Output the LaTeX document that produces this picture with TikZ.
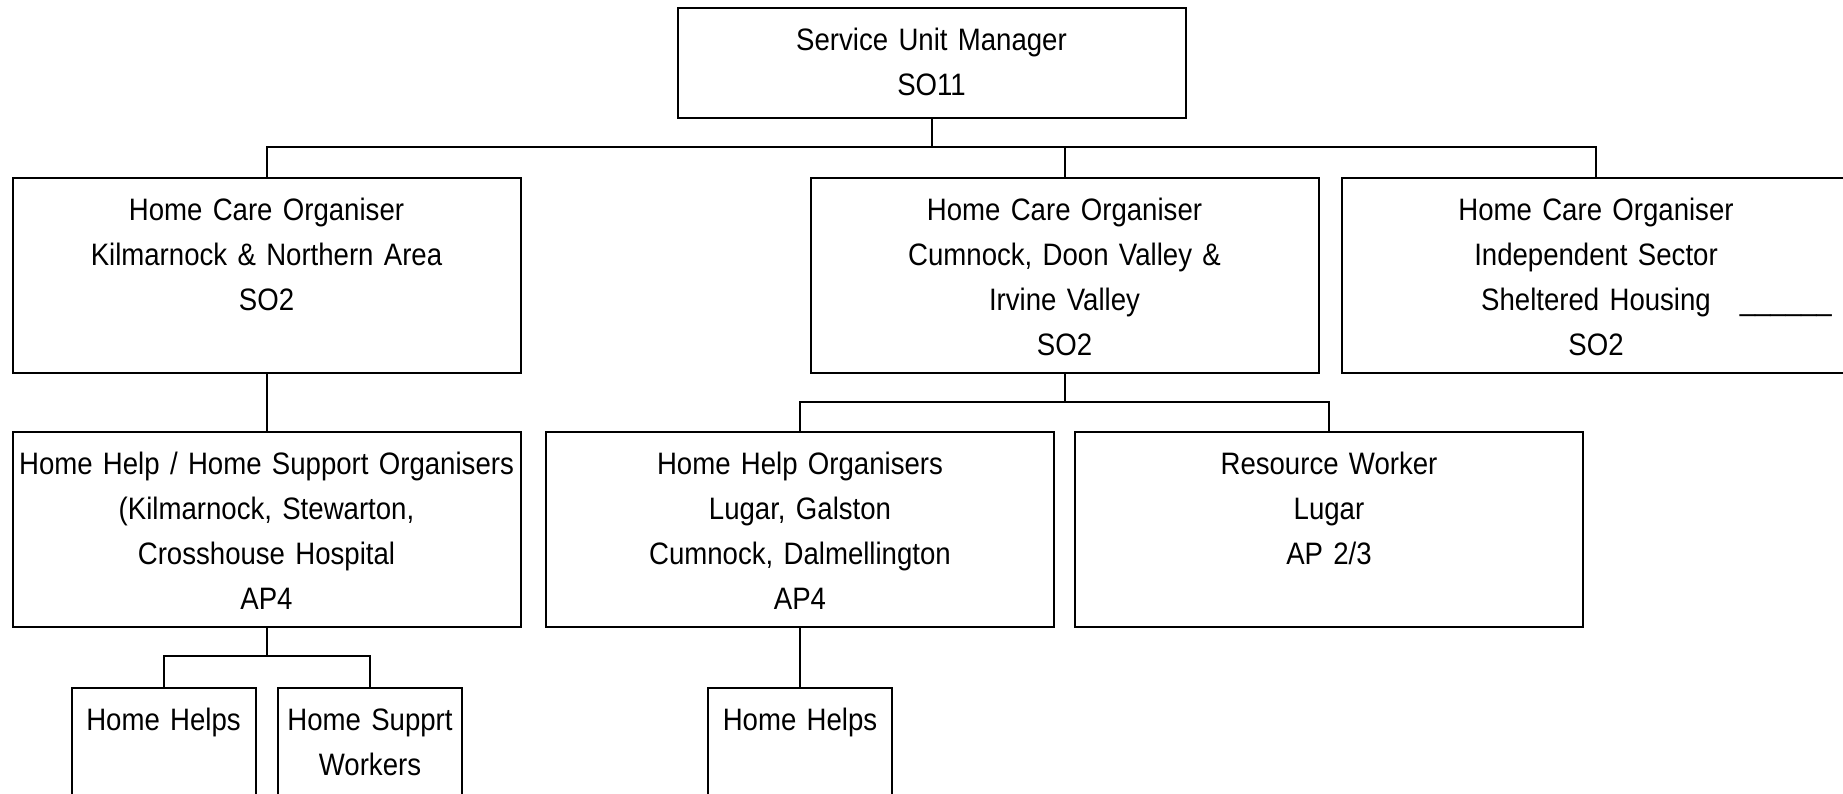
\documentclass[tikz,border=0pt]{standalone}
\usepackage{fontspec}
\setmainfont{Liberation Sans}[FakeStretch=0.89,WordSpace=0.85]
\usepackage{tikz}

\begin{document}
\begin{tikzpicture}[x=0.5pt,y=-0.5pt,line width=1pt,
        orgbox/.style={draw,anchor=north,align=center,inner xsep=0pt,inner ysep=10pt,
                text width=254pt,text height=11pt,text depth=66.5pt,
                font=\fontsize{15.5pt}{22.5pt}\selectfont},
        topbox/.style={orgbox,text depth=24pt},
        smallbox/.style={orgbox,text width=92pt}]
        \useasboundingbox (0,0) rectangle (1843,793);
        \node[topbox](sum) at (931.5,7) {Service Unit Manager\\SO11};
        \node[orgbox](kil) at (266.5,177) {Home Care Organiser\\Kilmarnock \& Northern Area\\SO2};
        \node[orgbox](cum) at (1064.5,177) {Home Care Organiser\\Cumnock, Doon Valley \&\\Irvine Valley\\SO2};
        \node[orgbox](ind) at (1596,177) {Home Care Organiser\\Independent Sector\\Sheltered Housing\rlap{\hspace{14.5pt}\_\_\_\_\_\_}\\SO2};
        \node[orgbox](hhso) at (266.5,431) {Home Help / Home Support Organisers\\(Kilmarnock, Stewarton,\\Crosshouse Hospital\\AP4};
        \node[orgbox](hho) at (800,431) {Home Help Organisers\\Lugar, Galston\\Cumnock, Dalmellington\\AP4};
        \node[orgbox](res) at (1329,431) {Resource Worker\\Lugar\\AP 2/3};
        \node[smallbox](hh1) at (163.5,687) {Home Helps};
        \node[smallbox](hsw) at (370,687) {Home Supprt\\Workers};
        \node[smallbox](hh2) at (800,687) {Home Helps};
        \coordinate(b1) at (931.5,147);
        \coordinate(b2) at (1064.5,402);
        \coordinate(b3) at (266.5,656);
        \draw(sum.south)--(b1);
        \draw(kil.north)|-(b1)-|(ind.north);
        \draw(cum.north)--(cum.north|-b1);
        \draw(kil)--(hhso);
        \draw(cum.south)--(b2);
        \draw(hho.north)|-(b2)-|(res.north);
        \draw(hhso.south)--(b3);
        \draw(hh1.north)|-(b3)-|(hsw.north);
        \draw(hho)--(hh2);
\end{tikzpicture}
\end{document}
